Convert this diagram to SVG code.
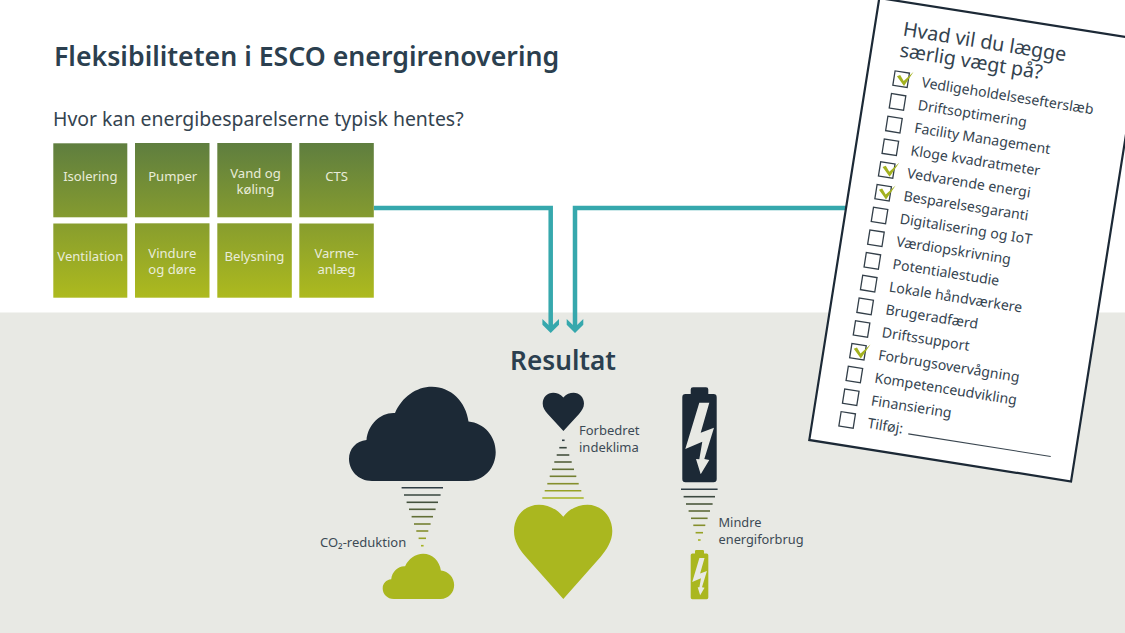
<svg xmlns="http://www.w3.org/2000/svg" width="1125" height="633" viewBox="0 0 1125 633">
<style>
text{font-family:"Noto Sans","Open Sans","Liberation Sans",sans-serif;fill:#34434f}
.tile{fill:url(#tg)}
.tt{fill:#e9ecd9;font-size:13.1px;text-anchor:middle}
.lab{font-size:13px;fill:#3c4a55}
.lab2{font-size:12.8px;fill:#3c4a55}
.conn{fill:none;stroke:#36a8ad;stroke-width:4.5;marker-end:url(#arr)}
.st{stroke-width:1.6;fill:none}
.item{font-size:14.08px}
.box{fill:#fff;stroke:#333f49;stroke-width:1.3}
.dark{fill:#1c2936}.green{fill:#aab71f}.bolt{fill:#e8e9e4}
</style>
<defs>
<linearGradient id="tg" gradientUnits="userSpaceOnUse" x1="0" y1="143" x2="0" y2="298"><stop offset="0" stop-color="#5f7e3f"/><stop offset="1" stop-color="#adba1e"/></linearGradient>
<marker id="arr" markerUnits="userSpaceOnUse" viewBox="0 -9 14 18" markerWidth="14" markerHeight="18" refX="8" refY="0" orient="auto"><path d="M0,-8.3H5.7L14,0L5.7,8.3H0L8,0Z" fill="#36a8ad"/></marker>
<path id="cloud" d="M372,481C358,481 349,470 349,459C349,449 356,441 366.5,440C368,424 381,412 395,413C402,397 416,386.7 432,386.7C451,386.7 466,402 468.5,421.5C484,423 495.7,436 495.7,452C495.7,468 484,481 468,481Z"/>
<path id="heart" d="M563.3,516.7C556,508 547,504.7 539,504.7C525,504.7 514,516 514,531C514,541 519,549 526,557L563.3,599L600.5,557C607,549 612.3,541 612.3,531C612.3,516 601,504.7 587.5,504.7C579,504.7 570,508 563.3,516.7Z"/>
<path id="batt" d="M693,387.3H706Q708.3,387.3 708.3,389.5V394H713.5Q716.7,394 716.7,397.2V479Q716.7,482.3 713.5,482.3H685.5Q682.3,482.3 682.3,479V397.2Q682.3,394 685.5,394H690.7V389.5Q690.7,387.3 693,387.3Z"/>
<path id="bolt" d="M699.3,402.7H709.3L700.7,432.7L714,427.7L704.3,459L709.3,460L700.7,474.3L696,459L699.3,459.3L702.3,441.7L685.3,449Z"/>
<path id="chk" d="M-4.6,-2.3L-1.6,-4L2.8,1.3L11.2,-9.2L3.9,6.2Z" fill="#a3b11f"/>
</defs>
<rect width="1125" height="633" fill="#fff"/>
<rect id="band" x="0" y="312.5" width="1125" height="320.5" fill="#e8e9e4"/>
<text id="title" x="54" y="66" font-size="26.7" font-weight="600" style="fill:#2b3f4f">Fleksibiliteten i ESCO energirenovering</text>
<text id="sub" x="53" y="126" font-size="19.45">Hvor kan energibesparelserne typisk hentes?</text>
<g id="connectors">
<path class="conn" d="M374,208H550.7V327"/>
<path class="conn" d="M850,208H575V327"/>
</g>
<g id="t-isolering"><rect class="tile" x="53.3" y="143.3" width="74" height="74"/><text class="tt" x="90.3" y="181">Isolering</text></g>
<g id="t-pumper"><rect class="tile" x="135" y="143" width="74.5" height="74.3"/><text class="tt" x="172.7" y="181">Pumper</text></g>
<g id="t-vand"><rect class="tile" x="217.3" y="143" width="74.5" height="74.3"/><text class="tt" x="255.5" y="177.5">Vand og</text><text class="tt" x="255.5" y="193.5">køling</text></g>
<g id="t-cts"><rect class="tile" x="299.3" y="143" width="74.5" height="74.3"/><text class="tt" x="336.5" y="181">CTS</text></g>
<g id="t-ventilation"><rect class="tile" x="53.3" y="223.5" width="74" height="74.2"/><text class="tt" x="90.3" y="261">Ventilation</text></g>
<g id="t-vindure"><rect class="tile" x="135" y="223.3" width="74.5" height="74.4"/><text class="tt" x="172.3" y="258">Vindure</text><text class="tt" x="172.3" y="274">og døre</text></g>
<g id="t-belysning"><rect class="tile" x="217.3" y="223.3" width="74.5" height="74.4"/><text class="tt" x="254.5" y="261">Belysning</text></g>
<g id="t-varme"><rect class="tile" x="299.3" y="223.5" width="74.5" height="74.2"/><text class="tt" x="336.5" y="257.5">Varme-</text><text class="tt" x="336.5" y="273.5">anlæg</text></g>
<text id="resultat" x="563" y="370" font-size="26.2" font-weight="600" text-anchor="middle" style="fill:#2b3f4f">Resultat</text>
<g id="co2">
<use href="#cloud" class="dark"/>
<g class="st">
<path stroke="#2f3d44" d="M401.6,487.7H443"/><path stroke="#39463f" d="M404,495H440.6"/><path stroke="#44513e" d="M406.6,502.3H438"/><path stroke="#525f3a" d="M409,509.3H435.6"/><path stroke="#626f36" d="M411.6,516.7H433"/><path stroke="#737f31" d="M414,524H430.6"/><path stroke="#858f2c" d="M416.3,531H428.3"/><path stroke="#97a226" d="M418.6,538.3H426"/><path stroke="#a6b321" d="M421,545.7H423.6"/>
</g>
<use href="#cloud" class="green" transform="translate(382.7,553.7) scale(.487,.48) translate(-349,-386.7)"/>
<text class="lab" x="320" y="547">CO₂-reduktion</text>
</g>
<g id="klima">
<use href="#heart" class="dark" transform="translate(542.7,392.7) scale(.42,.406) translate(-514,-504.7)"/>
<g class="st">
<path stroke="#2f3d44" d="M562,440.3H564.6"/><path stroke="#39463f" d="M559.3,447.7H566.7"/><path stroke="#44513e" d="M556.7,455H569.3"/><path stroke="#525f3a" d="M554.3,462H571.7"/><path stroke="#626f36" d="M552,469.3H574"/><path stroke="#737f31" d="M549.7,476.3H576.3"/><path stroke="#858f2c" d="M547.3,483.7H578.7"/><path stroke="#97a226" d="M544.7,490.7H581.3"/><path stroke="#a6b321" d="M542.3,498H583.7"/>
</g>
<use href="#heart" class="green"/>
<text class="lab" x="579" y="435">Forbedret</text><text class="lab" x="579" y="452">indeklima</text>
</g>
<g id="energi">
<use href="#batt" class="dark"/><use href="#bolt" class="bolt"/>
<g class="st">
<path stroke="#2f3d44" d="M681,489.3H717.6"/><path stroke="#3c4940" d="M683.6,496.7H715"/><path stroke="#4a573c" d="M686,504H712.6"/><path stroke="#5c6938" d="M688.6,511H710"/><path stroke="#707c32" d="M691,518.3H707.6"/><path stroke="#858f2c" d="M693.3,525.3H705.3"/><path stroke="#97a226" d="M695.6,532.7H703"/><path stroke="#a6b321" d="M698,540H700.6"/>
</g>
<g transform="translate(690.7,550) scale(.512,.519) translate(-682.3,-387.3)"><use href="#batt" class="green"/><use href="#bolt" class="bolt"/></g>
<text class="lab2" x="718.5" y="527">Mindre</text><text class="lab2" x="718.5" y="544">energiforbrug</text>
</g>
<g id="checklist" transform="translate(809.3,440) rotate(9)">
<rect x="0" y="-447.5" width="265" height="447.5" fill="#fff" stroke="#1c2936" stroke-width="2.2"/>
<text x="28.5" y="-414" font-size="19.7">Hvad vil du lægge</text>
<text x="28.6" y="-392.7" font-size="19.6">særlig vægt på?</text>
<g id="i1"><rect class="box" x="27" y="-378" width="14.5" height="14.5"/><use href="#chk" x="34.25" y="-370.75"/><text class="item" x="55" y="-366">Vedligeholdelsesefterslæb</text></g>
<g id="i2"><rect class="box" x="27" y="-355" width="14.5" height="14.5"/><text class="item" x="55" y="-343">Driftsoptimering</text></g>
<g id="i3"><rect class="box" x="27" y="-332" width="14.5" height="14.5"/><text class="item" x="55" y="-320">Facility Management</text></g>
<g id="i4"><rect class="box" x="27" y="-309" width="14.5" height="14.5"/><text class="item" x="55" y="-297">Kloge kvadratmeter</text></g>
<g id="i5"><rect class="box" x="27" y="-286" width="14.5" height="14.5"/><use href="#chk" x="34.25" y="-278.75"/><text class="item" x="55" y="-274">Vedvarende energi</text></g>
<g id="i6"><rect class="box" x="27" y="-263" width="14.5" height="14.5"/><use href="#chk" x="34.25" y="-255.75"/><text class="item" x="55" y="-251">Besparelsesgaranti</text></g>
<g id="i7"><rect class="box" x="27" y="-240" width="14.5" height="14.5"/><text class="item" x="55" y="-228">Digitalisering og IoT</text></g>
<g id="i8"><rect class="box" x="27" y="-217" width="14.5" height="14.5"/><text class="item" x="55" y="-205">Værdiopskrivning</text></g>
<g id="i9"><rect class="box" x="27" y="-194" width="14.5" height="14.5"/><text class="item" x="55" y="-182">Potentialestudie</text></g>
<g id="i10"><rect class="box" x="27" y="-171" width="14.5" height="14.5"/><text class="item" x="55" y="-159">Lokale håndværkere</text></g>
<g id="i11"><rect class="box" x="27" y="-148" width="14.5" height="14.5"/><text class="item" x="55" y="-136">Brugeradfærd</text></g>
<g id="i12"><rect class="box" x="27" y="-125" width="14.5" height="14.5"/><text class="item" x="55" y="-113">Driftssupport</text></g>
<g id="i13"><rect class="box" x="27" y="-102" width="14.5" height="14.5"/><use href="#chk" x="34.25" y="-94.75"/><text class="item" x="55" y="-90">Forbrugsovervågning</text></g>
<g id="i14"><rect class="box" x="27" y="-79" width="14.5" height="14.5"/><text class="item" x="55" y="-67">Kompetenceudvikling</text></g>
<g id="i15"><rect class="box" x="27" y="-56" width="14.5" height="14.5"/><text class="item" x="55" y="-44">Finansiering</text></g>
<g id="i16"><rect class="box" x="27" y="-33" width="14.5" height="14.5"/><text class="item" x="55" y="-21">Tilføj:</text><path d="M96.8,-21.5H241" stroke="#3a4650" stroke-width="1.1"/></g>
</g>
</svg>
